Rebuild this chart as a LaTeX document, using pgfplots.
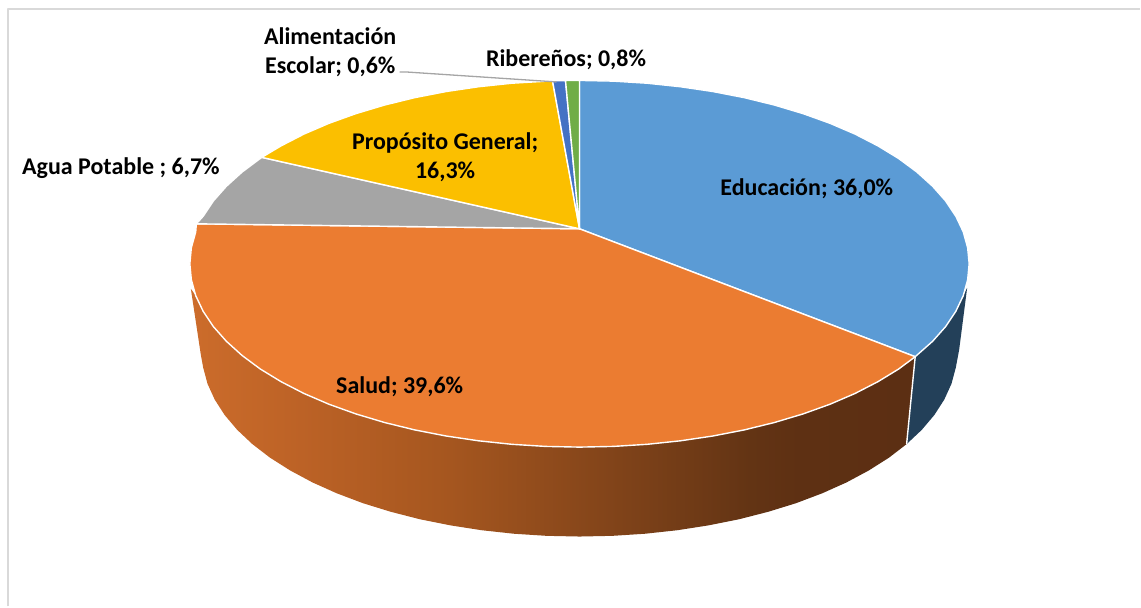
\documentclass[border=0pt]{standalone}
\usepackage{fontspec}
\setmainfont{Carlito}
\usepackage{pgfplots}
\pgfplotsset{compat=1.18}
\definecolor{cBlue}{HTML}{5B9BD5}
\definecolor{cOrange}{HTML}{EB7C31}
\definecolor{cGray}{HTML}{A5A5A5}
\definecolor{cYellow}{HTML}{FBBF00}
\definecolor{cDBlue}{HTML}{4472C4}
\definecolor{cGreen}{HTML}{70AD47}
\definecolor{cSide}{HTML}{234059}
\definecolor{cFrame}{HTML}{D9D9D9}
\definecolor{sA}{HTML}{CC6C2B}
\definecolor{sB}{HTML}{BC6226}
\definecolor{sC}{HTML}{A5561F}
\definecolor{sD}{HTML}{84451A}
\definecolor{sE}{HTML}{633414}
\definecolor{sF}{HTML}{5E3013}
\definecolor{sG}{HTML}{5C2F13}
\pgfdeclarehorizontalshading{pieside}{100bp}{
 color(0bp)=(sA);
 color(25bp)=(sA);
 color(32.6bp)=(sB);
 color(42.9bp)=(sC);
 color(53.3bp)=(sD);
 color(63.6bp)=(sE);
 color(67bp)=(sF);
 color(75bp)=(sG);
 color(100bp)=(sG)}
\tikzset{lbl/.style={font=\fontsize{24}{29}\selectfont\bfseries,align=center,text=black,inner sep=0pt}}
\begin{document}
\begin{tikzpicture}
\begin{axis}[
  width=1141pt,height=607pt,scale only axis,
  xmin=0,xmax=1141,ymin=0,ymax=607,y dir=reverse,
  hide axis,clip=false,
  every axis plot/.append style={line join=round}]
\path (axis cs:0,0) rectangle (axis cs:1141,607);
% frame
\addplot[cFrame,line width=2pt] coordinates {(8,607) (8,9) (1141,9)};
% side: blue
\addplot[draw=none,fill=cSide] coordinates {
(916,357)(917.7,355.8)(933.5,341.5)(946.5,326.8)(956.7,311.5)(964.1,295.9)(968,288)
(960,350)(956.6,368.1)(952.3,384.1)(945.1,399.9)(935.2,415.3)(922.6,430.2)(907.4,444.5)} --cycle;
% side: orange
\addplot[draw=none,shade,shading=pieside] coordinates {
(191,289)(195.9,295.9)(203.3,311.5)(213.5,326.8)(226.5,341.5)(242.3,355.8)(260.5,369.3)(281.3,382)
(304.2,393.8)(329.3,404.6)(356.3,414.3)(385,422.9)(415.2,430.3)(446.6,436.4)(479.1,441.2)(512.3,444.7)
(546,446.8)(580,447.5)(614,446.8)(647.7,444.7)(680.9,441.2)(713.4,436.4)(744.8,430.3)(775,422.9)
(803.7,414.3)(830.7,404.6)(855.8,393.8)(878.7,382)(899.5,369.3)(916,357)
(907.4,444.5)(889.7,458.1)(869.5,470.9)(847.3,482.8)(823,493.7)(796.8,503.6)(769,512.2)(739.7,519.7)
(709.3,525.8)(677.8,530.7)(645.6,534.2)(613,536.3)(580,537)(547,536.3)(514.4,534.2)(482.2,530.7)
(450.7,525.8)(420.3,519.7)(391,512.2)(363.2,503.6)(337,493.7)(312.7,482.8)(290.5,470.9)(270.3,458.1)
(252.6,444.5)(237.4,430.2)(224.8,415.3)(214.9,399.9)(207.7,384.1)(203.4,368.1)(201,355)} --cycle;
% side seam
\addplot[white,line width=1.4pt] coordinates {(916,357)(907.4,444.5)};
% top: Educacion
\addplot[draw=white,line width=1.4pt,fill=cBlue] coordinates {(580,229)(580,80.5)(614,81.2)(647.7,83.3)(680.9,86.8)(713.4,91.6)(744.8,97.7)(775,105.1)(803.7,113.7)(830.7,123.4)(855.8,134.2)(878.7,146)(899.5,158.7)(917.7,172.2)(933.5,186.5)(946.5,201.2)(956.7,216.5)(964.1,232.1)(968.5,248)(970,264)(968.5,280)(964.1,295.9)(956.7,311.5)(946.5,326.8)(933.5,341.5)(916,357)} --cycle;
% top: Salud
\addplot[draw=white,line width=1.4pt,fill=cOrange] coordinates {(580,229)(916,357)(899.5,369.3)(878.7,382)(855.8,393.8)(830.7,404.6)(803.7,414.3)(775,422.9)(744.8,430.3)(713.4,436.4)(680.9,441.2)(647.7,444.7)(614,446.8)(580,447.5)(546,446.8)(512.3,444.7)(479.1,441.2)(446.6,436.4)(415.2,430.3)(385,422.9)(356.3,414.3)(329.3,404.6)(304.2,393.8)(281.3,382)(260.5,369.3)(242.3,355.8)(226.5,341.5)(213.5,326.8)(203.3,311.5)(195.9,295.9)(191.5,280)(190,264)(191.5,248)(195.9,232.1)(196.5,224)} --cycle;
% top: Agua Potable
\addplot[draw=white,line width=1.4pt,fill=cGray] coordinates {(580,229)(196.5,224)(203.3,216.5)(213.5,201.2)(226.5,186.5)(242.3,172.2)(262,157.5)} --cycle;
% top: Proposito General
\addplot[draw=white,line width=1.4pt,fill=cYellow] coordinates {(580,229)(262,157.5)(281.3,146)(304.2,134.2)(329.3,123.4)(356.3,113.7)(385,105.1)(415.2,97.7)(446.6,91.6)(479.1,86.8)(512.3,83.3)(553,80.9)} --cycle;
% top: Alimentacion Escolar
\addplot[draw=white,line width=1.4pt,fill=cDBlue] coordinates {(580,229)(553,80.9)(566,80.6)} --cycle;
% top: Riberenos
\addplot[draw=white,line width=1.4pt,fill=cGreen] coordinates {(580,229)(566,80.6)(580,80.5)} --cycle;
% leader
\addplot[cGray,line width=1.3pt] coordinates {(400,72)(406,72)(557,82)};
% labels
\node[lbl] at (axis cs:807.5,189) {Educación; 36,0\%};
\node[lbl] at (axis cs:400,387) {Salud; 39,6\%};
\node[lbl] at (axis cs:445.5,157) {Propósito General;\\16,3\%};
\node[lbl] at (axis cs:121,168) {Agua Potable ; 6,7\%};
\node[lbl] at (axis cs:330.5,52) {Alimentación\\Escolar; 0,6\%};
\node[lbl] at (axis cs:566.5,60) {Ribereños; 0,8\%};
\end{axis}
\end{tikzpicture}
\end{document}
